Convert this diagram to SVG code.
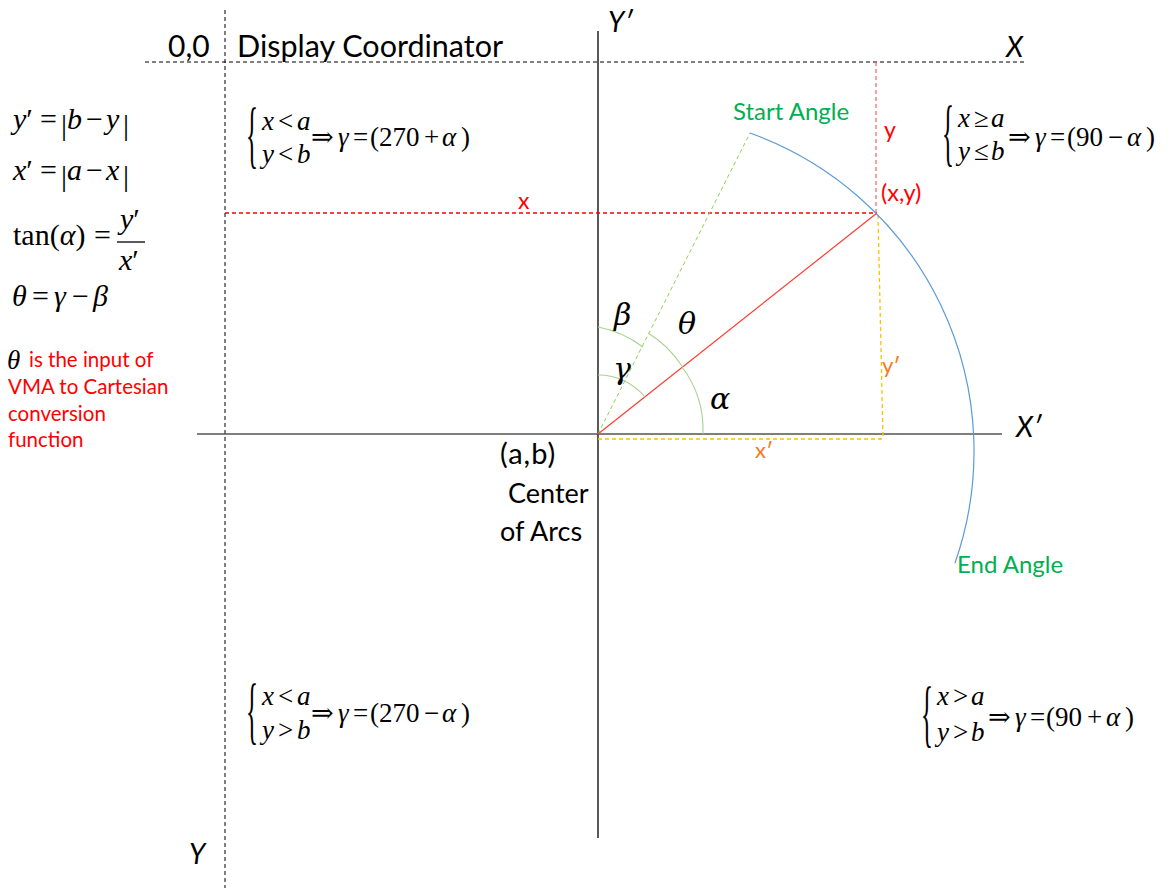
<svg xmlns="http://www.w3.org/2000/svg" width="1172" height="888" viewBox="0 0 1172 888">
<style>
.s{font-family:Lato,"Liberation Sans",sans-serif}
.m{font-family:"Liberation Serif","DejaVu Serif",serif;fill:#000}
.g{font-family:"DejaVu Serif","Liberation Serif",serif;fill:#000}
.i{font-style:italic}
.red{fill:#ff0000}
.grn{fill:#00b050}
.org{fill:#f47920}
.dash{fill:none;stroke-dasharray:4 3}
</style>
<rect width="1172" height="888" fill="#fff"/>
<g id="connectors">
<line x1="145" y1="62" x2="1025" y2="62" class="dash" stroke="#000" stroke-width="1"/>
<line x1="225" y1="10" x2="225" y2="888" class="dash" stroke="#000" stroke-width="1"/>
<line x1="598" y1="31" x2="598" y2="838" stroke="#000" stroke-width="1.3"/>
<line x1="197" y1="434" x2="1002" y2="434" stroke="#555" stroke-width="1.6"/>
<line x1="225" y1="213" x2="877" y2="213" class="dash" stroke="#ff0000" stroke-width="1.3"/>
<line x1="876" y1="62" x2="876" y2="213" class="dash" stroke="#ff5050" stroke-width="1.1"/>
<line x1="878" y1="215" x2="883" y2="438" class="dash" stroke="#ffc000" stroke-width="1.3"/>
<line x1="598" y1="439" x2="883" y2="439" class="dash" stroke="#ffc000" stroke-width="1.3"/>
<line x1="598" y1="434" x2="750" y2="133" class="dash" stroke="#92d050" stroke-width="1"/>
<line x1="598" y1="434" x2="877" y2="213" stroke="#ff3b2f" stroke-width="1.2"/>
<path d="M750 133 A338 338 0 0 1 955 563" fill="none" stroke="#5b9bd5" stroke-width="1.2"/>
<g fill="none" stroke="#a9d18e" stroke-width="1.1">
<path d="M598 375 A60 60 0 0 1 645 397"/>
<path d="M598 327 A107 107 0 0 1 643 347"/>
<path d="M648 333 A110 110 0 0 1 682 366"/>
<path d="M682 367 A105 105 0 0 1 703 434"/>
</g>
</g>
<g id="axis-labels" class="s">
<text x="168" y="57" font-size="30">0,0</text>
<text x="237" y="57" font-size="30.5">Display Coordinator</text>
<text x="608" y="32" font-size="28" class="i">Y′</text>
<text x="1006" y="57" font-size="28" class="i">X</text>
<text x="1016" y="437" font-size="28" class="i">X′</text>
<text x="189" y="864" font-size="28" class="i">Y</text>
</g>
<g id="center" class="s">
<text x="500" y="464" font-size="29" letter-spacing="1">(a,b)</text>
<text x="508" y="503" font-size="27">Center</text>
<text x="500" y="541" font-size="27">of Arcs</text>
</g>
<g id="arc-labels" class="s" font-size="24">
<text x="733" y="120" class="grn">Start Angle</text>
<text x="957" y="573" class="grn">End Angle</text>
</g>
<g id="point-labels" class="s">
<text x="884" y="138" font-size="23" class="red">y</text>
<text x="881" y="201" font-size="23.5" class="red">(x,y)</text>
<text x="518" y="209" font-size="23" class="red">x</text>
<text x="882" y="373" font-size="22" class="org">y′</text>
<text x="755" y="458" font-size="22" class="org">x′</text>
</g>
<g id="angle-labels" class="g i" font-size="30">
<text x="614" y="325">β</text>
<text x="678" y="334">θ</text>
<text x="613" y="379">γ</text>
<text x="710" y="409">α</text>
</g>
<g id="formulas-left" class="m" font-size="30">
<text y="129"><tspan x="13" class="i">y</tspan><tspan>′</tspan><tspan x="40">=</tspan><tspan x="67" class="i">b</tspan><tspan x="86">−</tspan><tspan x="106" class="i">y</tspan></text>
<text y="135"><tspan x="61">|</tspan><tspan x="123">|</tspan></text>
<text y="180"><tspan x="13" class="i">x</tspan><tspan>′</tspan><tspan x="40">=</tspan><tspan x="67" class="i">a</tspan><tspan x="86">−</tspan><tspan x="106" class="i">x</tspan></text>
<text y="186"><tspan x="61">|</tspan><tspan x="123">|</tspan></text>
<text y="245"><tspan x="13">tan(</tspan><tspan class="i">α</tspan><tspan>)</tspan><tspan x="94">=</tspan></text>
<text y="229"><tspan x="120" class="i">y</tspan><tspan>′</tspan></text>
<line x1="117" y1="242" x2="145" y2="242" stroke="#000" stroke-width="1.3"/>
<text y="270"><tspan x="119" class="i">x</tspan><tspan>′</tspan></text>
<text y="306"><tspan x="12" class="i">θ</tspan><tspan x="32">=</tspan><tspan x="54" class="i">γ</tspan><tspan x="72">−</tspan><tspan x="93" class="i">β</tspan></text>
</g>
<g id="note">
<text x="7" y="369" class="m i" font-size="27">θ</text>
<g class="s red" font-size="20.5">
<text x="29" y="367">is the input of</text>
<text x="8" y="394">VMA to Cartesian</text>
<text x="8" y="421">conversion</text>
<text x="8" y="447">function</text>
</g>
</g>
<g id="case-tl" class="m" font-size="27">
<text transform="translate(246,159) scale(1,3)" font-size="25">{</text>
<text y="130"><tspan x="262" class="i">x</tspan><tspan x="278">&lt;</tspan><tspan x="297" class="i">a</tspan></text>
<text y="163"><tspan x="262" class="i">y</tspan><tspan x="278">&lt;</tspan><tspan x="297" class="i">b</tspan></text>
<text y="146"><tspan x="311">⇒</tspan><tspan x="338" class="i">γ</tspan><tspan x="353">=</tspan><tspan x="370">(270</tspan><tspan x="424">+</tspan><tspan x="442" class="i">α</tspan><tspan x="461">)</tspan></text>
</g>
<g id="case-tr" class="m" font-size="27">
<text transform="translate(942,157) scale(1,3)" font-size="25">{</text>
<text y="127"><tspan x="958" class="i">x</tspan><tspan x="974">≥</tspan><tspan x="991" class="i">a</tspan></text>
<text y="160"><tspan x="958" class="i">y</tspan><tspan x="974">≤</tspan><tspan x="991" class="i">b</tspan></text>
<text y="146"><tspan x="1008">⇒</tspan><tspan x="1035" class="i">γ</tspan><tspan x="1050">=</tspan><tspan x="1067">(90</tspan><tspan x="1108">−</tspan><tspan x="1127" class="i">α</tspan><tspan x="1146">)</tspan></text>
</g>
<g id="case-bl" class="m" font-size="27">
<text transform="translate(246,735) scale(1,3)" font-size="25">{</text>
<text y="705"><tspan x="262" class="i">x</tspan><tspan x="278">&lt;</tspan><tspan x="297" class="i">a</tspan></text>
<text y="739"><tspan x="262" class="i">y</tspan><tspan x="278">&gt;</tspan><tspan x="297" class="i">b</tspan></text>
<text y="722"><tspan x="311">⇒</tspan><tspan x="338" class="i">γ</tspan><tspan x="353">=</tspan><tspan x="370">(270</tspan><tspan x="424">−</tspan><tspan x="442" class="i">α</tspan><tspan x="461">)</tspan></text>
</g>
<g id="case-br" class="m" font-size="27">
<text transform="translate(921,738) scale(1,3)" font-size="25">{</text>
<text y="705"><tspan x="937" class="i">x</tspan><tspan x="953">&gt;</tspan><tspan x="971" class="i">a</tspan></text>
<text y="741"><tspan x="937" class="i">y</tspan><tspan x="953">&gt;</tspan><tspan x="971" class="i">b</tspan></text>
<text y="726"><tspan x="988">⇒</tspan><tspan x="1015" class="i">γ</tspan><tspan x="1030">=</tspan><tspan x="1046">(90</tspan><tspan x="1087">+</tspan><tspan x="1106" class="i">α</tspan><tspan x="1125">)</tspan></text>
</g>
</svg>
